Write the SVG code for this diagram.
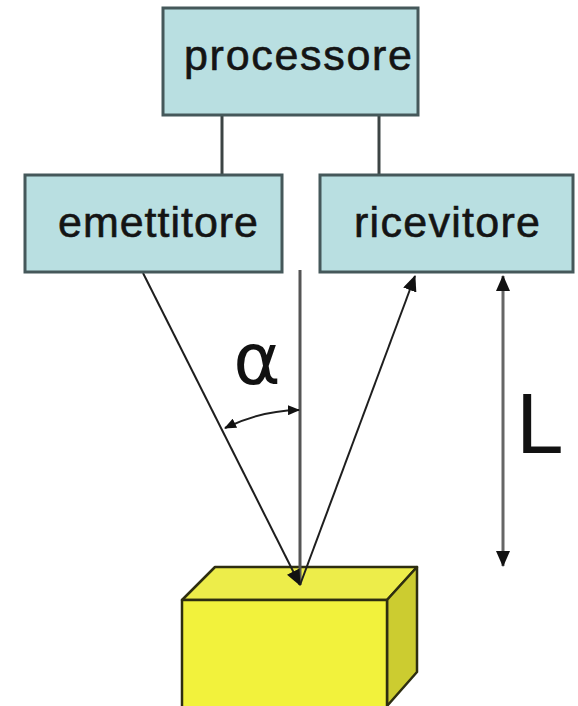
<svg xmlns="http://www.w3.org/2000/svg" width="578" height="706" viewBox="0 0 578 706">
  <style>
    .box { fill: #b9dfe1; stroke: #45585a; stroke-width: 3; }
    .lbl { font-family: "Liberation Sans", Arial, sans-serif; font-size: 43px; fill: #141414; stroke: #141414; stroke-width: 0.6; text-anchor: middle; }
    .wire { stroke: #3c4444; stroke-width: 3; fill: none; }
    .ray { stroke: #1e1e1e; stroke-width: 2; fill: none; }
    .edge { stroke: #2e2e10; stroke-width: 2.5; stroke-linejoin: round; }
  </style>
  <defs>
    <marker id="head" viewBox="0 0 12 10" refX="11" refY="5" markerWidth="12" markerHeight="10" markerUnits="userSpaceOnUse" orient="auto-start-reverse">
      <path d="M0,0 L12,5 L0,10 z" fill="#111"/>
    </marker>
    <marker id="headBig" viewBox="0 0 16 14" refX="15" refY="7" markerWidth="16" markerHeight="14" markerUnits="userSpaceOnUse" orient="auto-start-reverse">
      <path d="M0,0 L16,7 L0,14 z" fill="#111"/>
    </marker>
  </defs>
  <rect width="578" height="706" fill="#ffffff"/>

  <!-- target block -->
  <g id="oggetto">
    <polygon class="edge" points="182,600 215,567 417,567 387,600" fill="#eded4a"/>
    <polygon class="edge" points="387,600 417,567 417,672 387,706" fill="#cccc30"/>
    <rect class="edge" x="182" y="600" width="205" height="110" fill="#f2f23c"/>
  </g>

  <g id="connectors">
    <!-- processor links -->
    <line class="wire" x1="222" y1="115" x2="222" y2="175"/>
    <line class="wire" x1="379" y1="115" x2="379" y2="175"/>
    <!-- normal line -->
    <line x1="300" y1="270" x2="300" y2="585" stroke="#555" stroke-width="3"/>
    <!-- emitted ray -->
    <line class="ray" x1="143" y1="273" x2="300" y2="585" marker-end="url(#headBig)"/>
    <!-- reflected ray -->
    <line class="ray" x1="300" y1="585" x2="415" y2="276" marker-end="url(#headBig)"/>
    <!-- angle arc -->
    <path class="ray" d="M225,428 A175,175 0 0 1 299,410" marker-start="url(#head)" marker-end="url(#head)"/>
    <!-- distance L -->
    <line x1="503" y1="276" x2="503" y2="566" stroke="#666" stroke-width="3" marker-start="url(#headBig)" marker-end="url(#headBig)"/>
  </g>

  <g id="processore">
    <rect class="box" x="163" y="8" width="255" height="107"/>
    <text class="lbl" x="298" y="70" textLength="228" lengthAdjust="spacing">processore</text>
  </g>

  <g id="emettitore">
    <rect class="box" x="25" y="175" width="257" height="97"/>
    <text class="lbl" x="158" y="237" textLength="200" lengthAdjust="spacing">emettitore</text>
  </g>

  <g id="ricevitore">
    <rect class="box" x="320" y="175" width="253" height="97"/>
    <text class="lbl" x="447" y="237" textLength="186" lengthAdjust="spacing">ricevitore</text>
  </g>

  <text x="257" y="384" font-family="'DejaVu Sans', 'Liberation Sans', sans-serif" font-size="72" fill="#111" text-anchor="middle">α</text>
  <text x="540" y="453" font-family="'Liberation Sans', Arial, sans-serif" font-size="85" fill="#111" text-anchor="middle">L</text>
</svg>
